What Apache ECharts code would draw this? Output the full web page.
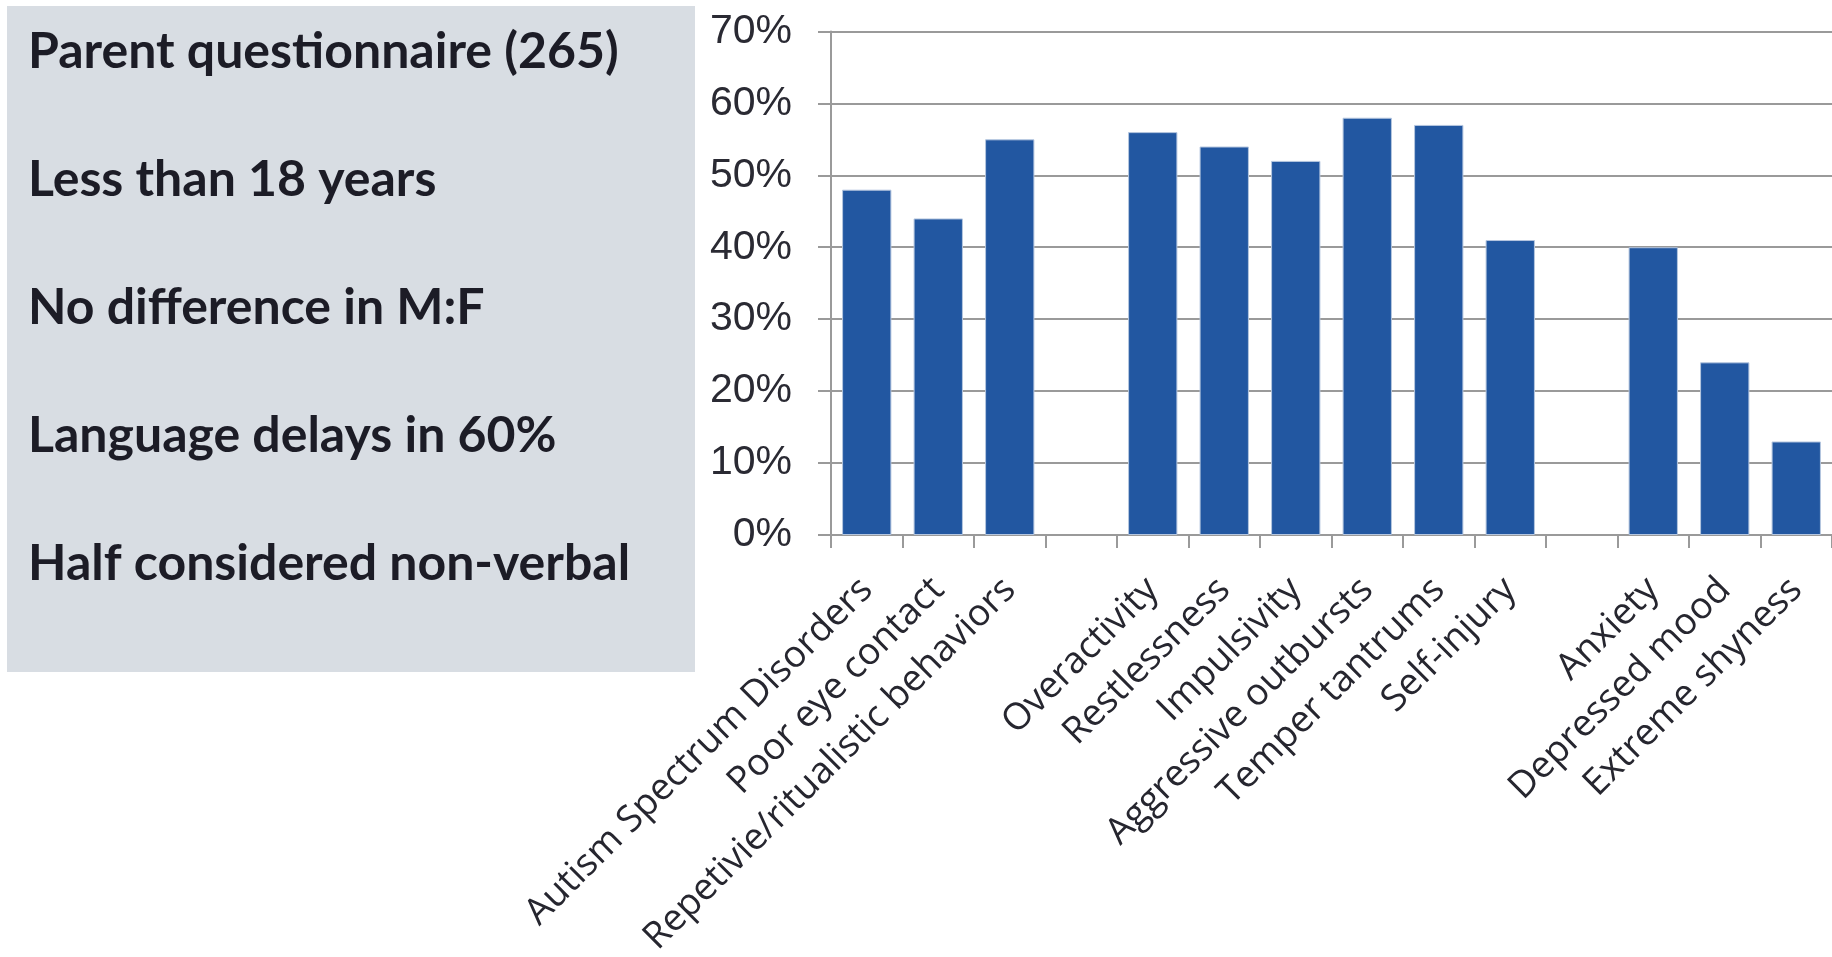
<!DOCTYPE html>
<html>
<head>
<meta charset="utf-8">
<script src="https://cdn.jsdelivr.net/npm/echarts@6/dist/echarts.min.js"></script>
<style>
  html, body { margin: 0; padding: 0; background: #ffffff; }
  #chart { width: 1832px; height: 957px; }
</style>
</head>
<body>
<div id="chart"></div>
<script>
// Behaviour categories (empty names are spacer columns between groups)
const categories = [
  'Autism Spectrum Disorders', 'Poor eye contact', 'Repetivie/ritualistic behaviors', '',
  'Overactivity', 'Restlessness', 'Impulsivity', 'Aggressive outbursts', 'Temper tantrums', 'Self-injury', '',
  'Anxiety', 'Depressed mood', 'Extreme shyness'
];
// Percent of parents reporting each behaviour
const percentValues = [48, 44, 55, null, 56, 54, 52, 58, 57, 41, null, 40, 24, 13];
// Y axis range and step (percent)
const yMin = 0, yMax = 70, yStep = 10;
// Summary notes shown in the side panel
const notes = [
  'Parent questionnaire (265)',
  'Less than 18 years',
  'No difference in M:F',
  'Language delays in 60%',
  'Half considered non-verbal'
];

const chart = echarts.init(document.getElementById('chart'), null, { renderer: 'canvas' });

// Side panel: grey box with one note per line
const noteTop = 27, noteStep = 128;
const panel = [
  { type: 'rect', left: 7, top: 6, shape: { width: 688, height: 666 }, style: { fill: '#d8dde3' }, z: 0 }
].concat(notes.map((t, i) => ({
  type: 'text',
  left: 28,
  top: noteTop + i * noteStep,
  z: 1,
  style: {
    text: t,
    fill: '#1c1c26',
    font: 'bold 50px Lato, "Open Sans", sans-serif'
  }
})));

chart.setOption({
  animation: false,
  backgroundColor: '#ffffff',
  graphic: panel,
  grid: {
    left: 831, right: 0, top: 31.4, bottom: 422,
    containLabel: false,
    outerBoundsMode: 'none'
  },
  xAxis: {
    type: 'category',
    data: categories,
    boundaryGap: true,
    axisLine: { show: true, lineStyle: { color: '#9a9a9a', width: 2 } },
    axisTick: { show: true, length: 13, interval: 0, alignWithLabel: false, lineStyle: { color: '#9a9a9a', width: 2 } },
    axisLabel: {
      interval: 0,
      rotate: 45,
      margin: 49,
      color: '#26262f',
      fontSize: 37,
      fontFamily: '"Open Sans", sans-serif'
    },
    splitLine: { show: false }
  },
  yAxis: {
    type: 'value',
    min: yMin,
    max: yMax,
    interval: yStep,
    axisLine: { show: true, lineStyle: { color: '#9a9a9a', width: 2 } },
    axisTick: { show: true, length: 13, lineStyle: { color: '#9a9a9a', width: 2 } },
    axisLabel: {
      formatter: '{value}%',
      margin: 39,
      color: '#2a2a33',
      fontSize: 41,
      fontFamily: '"Liberation Sans", Arial, sans-serif'
    },
    splitLine: { show: true, lineStyle: { color: '#9a9a9a', width: 2 } }
  },
  series: [{
    type: 'bar',
    data: percentValues,
    barCategoryGap: '31%',
    itemStyle: { color: '#2257a1', borderColor: '#b5c6df', borderWidth: 1 }
  }]
});
</script>
</body>
</html>
